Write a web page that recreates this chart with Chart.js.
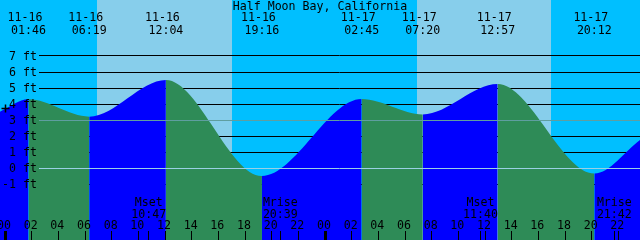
<!DOCTYPE html>
<html><head><meta charset="utf-8">
<script src="https://cdn.jsdelivr.net/npm/chart.js@4.4.1/dist/chart.umd.min.js"></script>
<style>html,body{margin:0;padding:0;background:#00BFFF;overflow:hidden}canvas{display:block}</style>
</head><body>
<canvas id="c" width="640" height="240"></canvas>
<script>
// ---- data ----
const title = "Half Moon Bay, California";
const dayNames = ["11-15", "11-16", "11-17"];          // day index -1, 0, 1
const extremeDates = ["11-16","11-16","11-16","11-16","11-17","11-17","11-17","11-17"];
const extremeTimes = ["01:46","06:19","12:04","19:16","02:45","07:20","12:57","20:12"];
const extremeHeights = [4.29, 3.21, 5.50, -0.50, 4.31, 3.35, 5.25, -0.35];
const edgeDates = ["11-15", "11-17"];
const edgeTimes = ["23:37.5", "23:37.5"];
const edgeHeights = [3.52, 1.75];
const sunriseDates = ["11-16", "11-17"];
const sunriseTimes = ["06:53", "06:53"];
const sunsetTimes  = ["17:02", "16:57"];
const moonNames = ["Mset", "Mrise", "Mset", "Mrise"];
const moonDates = ["11-16", "11-16", "11-17", "11-17"];
const moonTimes = ["10:47", "20:39", "11:40", "21:42"];
const yTickValues = [-1, 0, 1, 2, 3, 4, 5, 6, 7];
const hourTickLabels = ["00","02","04","06","08","10","12","14","16","18","20","22"];
const tickDays = ["11-16", "11-17", "11-18"];
const markerPoint = {date: "11-16", time: "00:00", ft: 3.73};
const meanLevel = 3;
const datumLevel = 0;

// ---- styles ----
const NIGHT = "#00BFFF", DAY = "#87CEEB", RISE = "#0000FF", FALL = "#2E8B57";
const FONT = "11.6px 'DejaVu Sans Mono', 'Liberation Mono', monospace";

function toHours(date, time) {
  const d = dayNames.indexOf(date) - 1;
  const [hh, mm] = time.split(":").map(Number);
  return d * 24 + hh + mm / 60;
}

const points = [];
points.push({x: toHours(edgeDates[0], edgeTimes[0]), y: edgeHeights[0]});
extremeTimes.forEach((t, i) => points.push({x: toHours(extremeDates[i], t), y: extremeHeights[i]}));
points.push({x: toHours(edgeDates[1], edgeTimes[1]), y: edgeHeights[1]});

const tidePlugin = {
  id: "tide",
  beforeDatasetsDraw(chart) {
    const {ctx, chartArea: a, scales: {x, y}} = chart;
    ctx.save();
    ctx.fillStyle = NIGHT;
    ctx.fillRect(a.left, a.top, a.right - a.left, a.bottom - a.top);
    ctx.fillStyle = DAY;
    sunriseDates.forEach((d, i) => {
      const x0 = x.getPixelForValue(toHours(d, sunriseTimes[i]));
      const x1 = x.getPixelForValue(toHours(d, sunsetTimes[i]));
      ctx.fillRect(Math.round(x0), a.top, Math.round(x1) - Math.round(x0), a.bottom - a.top);
    });
    ctx.strokeStyle = "#000";
    ctx.lineWidth = 1;
    yTickValues.forEach(v => {
      const py = Math.floor(y.getPixelForValue(v)) + 0.5;
      ctx.beginPath(); ctx.moveTo(39, py); ctx.lineTo(a.right, py); ctx.stroke();
    });
    ctx.restore();
  },
  afterDatasetsDraw(chart) {
    const {ctx, chartArea: a, scales: {x, y}} = chart;
    ctx.save();
    ctx.lineWidth = 1;
    // mean level and datum lines over the water
    [[meanLevel, "#5f9ea0"], [datumLevel, "#9ad0e4"]].forEach(([v, c]) => {
      const py = Math.floor(y.getPixelForValue(v)) + 0.5;
      ctx.strokeStyle = c;
      ctx.beginPath(); ctx.moveTo(39, py); ctx.lineTo(a.right, py); ctx.stroke();
    });
    ctx.fillStyle = "#000";
    ctx.strokeStyle = "#000";
    ctx.font = FONT;
    // y labels
    ctx.textAlign = "right";
    ctx.textBaseline = "alphabetic";
    yTickValues.forEach(v => {
      const py = y.getPixelForValue(v);
      ctx.fillText(v + " ft", 37, py + 4);
    });
    // title
    ctx.textAlign = "center";
    ctx.fillText(title, (a.left + a.right) / 2, 10);
    // extreme labels
    extremeTimes.forEach((t, i) => {
      const px = x.getPixelForValue(toHours(extremeDates[i], t));
      ctx.fillText(extremeDates[i], px - 3.5, 21);
      ctx.fillText(t, px, 34);
    });
    // hour ticks and labels
    tickDays.forEach((d, di) => {
      hourTickLabels.forEach(lbl => {
        const h = toHours(d, lbl + ":00");
        const px = x.getPixelForValue(h);
        if (px > a.right + 20) return;
        ctx.fillText(lbl, px - 1, 229);
        const fx = Math.floor(px);
        if (lbl === "00") {
          ctx.fillRect(fx - 1, 231, 3, 9);
        } else {
          ctx.fillRect(fx, 231, 1, 9);
        }
      });
    });
    // moon events
    moonNames.forEach((n, i) => {
      const px = x.getPixelForValue(toHours(moonDates[i], moonTimes[i]));
      ctx.fillText(n, px, 206);
      ctx.fillText(moonTimes[i], px, 218);
      ctx.fillRect(Math.floor(px), 231, 1, 9);
    });
    // marker
    const mx = Math.floor(x.getPixelForValue(toHours(markerPoint.date, markerPoint.time))) + 0.5;
    const my = Math.floor(y.getPixelForValue(markerPoint.ft)) + 0.5;
    ctx.lineWidth = 1.5;
    ctx.beginPath();
    ctx.moveTo(mx - 4, my); ctx.lineTo(mx + 4, my);
    ctx.moveTo(mx, my - 4); ctx.lineTo(mx, my + 4);
    ctx.stroke();
    ctx.restore();
  }
};

new Chart(document.getElementById("c"), {
  type: "line",
  data: {
    datasets: [{
      data: points,
      fill: "start",
      borderWidth: 0,
      borderColor: "rgba(0,0,0,0)",
      backgroundColor: RISE,
      pointRadius: 0,
      cubicInterpolationMode: "monotone",
      segment: {
        backgroundColor: c => c.p1.parsed.y >= c.p0.parsed.y ? RISE : FALL
      }
    }]
  },
  options: {
    responsive: false,
    animation: false,
    devicePixelRatio: 1,
    layout: {padding: 0},
    plugins: {legend: {display: false}, tooltip: {enabled: false}, title: {display: false}},
    events: [],
    scales: {
      x: {type: "linear", min: -0.375, max: 47.625, display: false},
      y: {type: "linear", min: -4.5, max: 10.5, display: false}
    }
  },
  plugins: [tidePlugin]
});
</script>
</body></html>
